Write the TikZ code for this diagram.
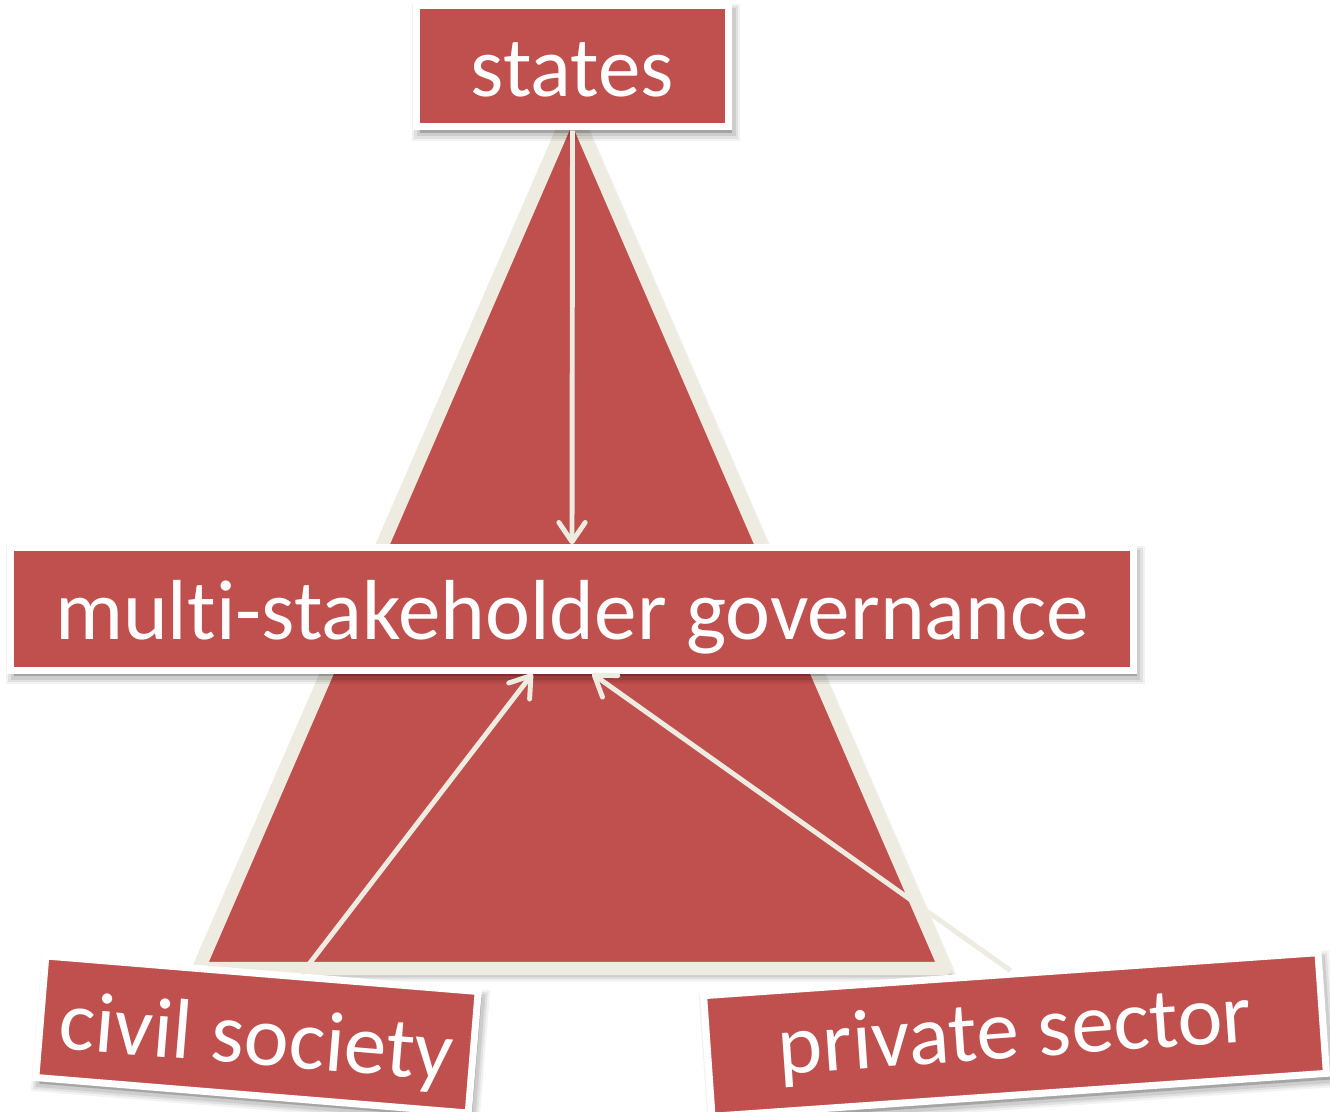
\documentclass[tikz,border=0pt]{standalone}
\usepackage{fontspec}
\setmainfont[Ligatures=NoCommon]{Carlito}
\usetikzlibrary{arrows.meta,calc}

\definecolor{boxred}{HTML}{C0504D}
\definecolor{paper}{HTML}{EEECE1}

\begin{document}
\begin{tikzpicture}[x=0.02cm, y=-0.02cm,
  soft shadow/.style={
    preaction={draw=black, fill=black, opacity=0.05, line width=#1+5pt, transform canvas={shift={(2pt,-3.5pt)}}},
    preaction={draw=black, fill=black, opacity=0.07, line width=#1+2.5pt, transform canvas={shift={(2pt,-3.5pt)}}},
    preaction={draw=black, fill=black, opacity=0.09, line width=#1, transform canvas={shift={(2pt,-3.5pt)}}}},
  actorbox/.style={rectangle, fill=boxred, draw=white, line width=4pt, text=white,
    inner sep=0pt, font=\fontsize{48.5}{58}\selectfont, text height=43pt, text depth=8.5pt,
    soft shadow=4pt},
  link/.style={draw=paper, line width=2.8pt, -{Straight Barb[length=11pt,width=15pt,round]}}]

\useasboundingbox (0,0) rectangle (1330,1112);

% -------- Triangle -----------
\draw [draw=paper, fill=boxred, line width=7.6pt, line join=round, soft shadow=3pt]
  (572,108) -- (945.3,968.5) -- (198.7,968.5) -- cycle;

% -------- Boxes -----------
\node [actorbox, minimum width=6.24cm, minimum height=2.43cm] (states) at (572.5,66) {states};
\node [actorbox, minimum width=22.46cm, minimum height=2.45cm] (multi) at (572,609) {multi-stakeholder governance};

\node [actorbox, minimum width=8.68cm, minimum height=2.44cm, rotate=-4.7] (civil) at (257,1034.5) {civil society};
\node [actorbox, minimum width=12.32cm, minimum height=2.42cm, rotate=4, text height=39pt, text depth=12.5pt] (private) at (1015,1034.5) {private sector};

% -------- Arrows -----------
\draw [link] (states.south) -- (multi.north);
\draw [link] ($(civil.north west)!0.59!(civil.north east)$) -- ($(multi.south west)!0.465!(multi.south east)$);
\draw [link] (private.north) -- ($(multi.south west)!0.518!(multi.south east)$);

\end{tikzpicture}
\end{document}
